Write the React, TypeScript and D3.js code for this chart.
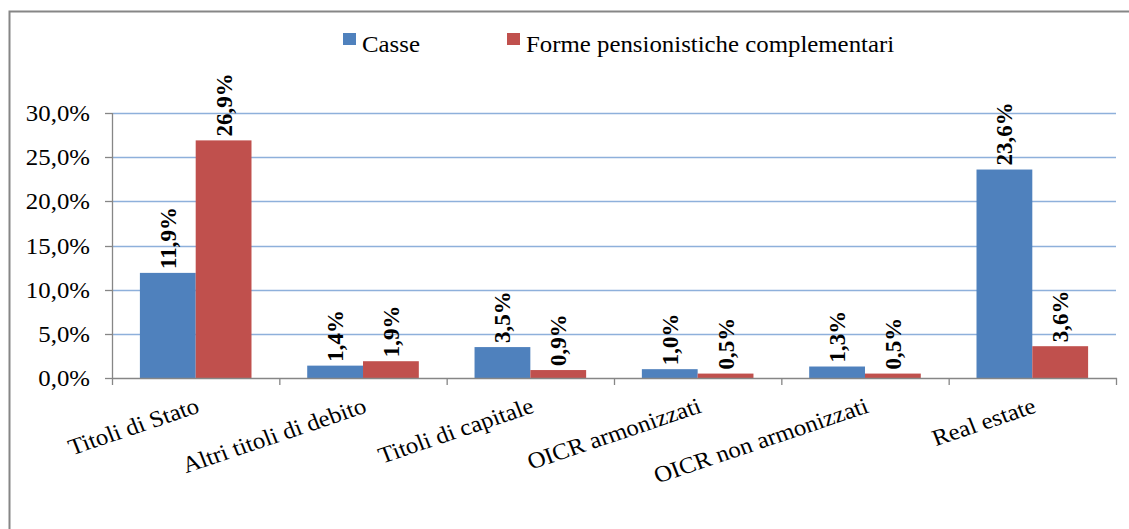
import React from 'react';
import * as d3 from 'd3';

const categories = [
  'Titoli di Stato',
  'Altri titoli di debito',
  'Titoli di capitale',
  'OICR armonizzati',
  'OICR non armonizzati',
  'Real estate',
];
const seriesNames = ['Casse', 'Forme pensionistiche complementari'];
const casse = [11.9, 1.4, 3.5, 1.0, 1.3, 23.6];
const forme = [26.9, 1.9, 0.9, 0.5, 0.5, 3.6];
const yTicks = [0, 5, 10, 15, 20, 25, 30];
const colors = ['#4f81bd', '#c0504d'];

const W = 1129;
const H = 529;
const FONT = '"Liberation Serif", "Times New Roman", serif';
const SX = 1.08; // the reference text is a bit wider than plain Times

const App: React.FC = () => {
  const left = 112;
  const right = 1116;
  const top = 113;
  const bottom = 378;

  const x = d3.scaleBand<string>().domain(categories).range([left, right]).paddingInner(0.333).paddingOuter(0.1667);
  const bandAll = d3.scaleBand<string>().domain(categories).range([left, right]);
  const xs = d3.scaleBand<string>().domain(seriesNames).range([0, x.bandwidth()]);
  const y = d3.scaleLinear().domain([0, 30]).range([bottom, top]);
  const fmt = (v: number) => v.toFixed(1).replace('.', ',') + '%';
  const series = [casse, forme];

  return (
    <svg width={W} height={H} style={{ position: 'absolute', left: 0, top: 0, background: '#fff' }} fontFamily={FONT}>
      {/* chart border */}
      <path d={`M9.5,${H} V11.5 H${W}`} fill="none" stroke="#868686" strokeWidth={2} />

      {/* gridlines */}
      {yTicks.filter(t => t > 0).map(t => (
        <line key={t} x1={left} x2={right} y1={Math.round(y(t)) + 0.5} y2={Math.round(y(t)) + 0.5} stroke="#8eb0db" strokeWidth={1.3} />
      ))}

      {/* bars */}
      {series.map((vals, si) =>
        vals.map((v, i) => (
          <rect
            key={`${si}-${i}`}
            x={(x(categories[i]) ?? 0) + (xs(seriesNames[si]) ?? 0)}
            y={y(v)}
            width={xs.bandwidth()}
            height={y(0) - y(v)}
            fill={colors[si]}
          />
        ))
      )}

      {/* y axis */}
      <line x1={left + 0.5} x2={left + 0.5} y1={top} y2={bottom} stroke="#868686" strokeWidth={1.3} />
      {yTicks.map(t => (
        <g key={t}>
          <line x1={left - 7} x2={left} y1={Math.round(y(t)) + 0.5} y2={Math.round(y(t)) + 0.5} stroke="#868686" strokeWidth={1.3} />
          <text transform={`translate(${left - 22},${y(t)}) scale(${SX},1)`} dy="0.35em" textAnchor="end" fontSize={23} fill="#000">{fmt(t)}</text>
        </g>
      ))}

      {/* x axis */}
      <line x1={left} x2={right + 1} y1={bottom + 0.5} y2={bottom + 0.5} stroke="#868686" strokeWidth={1.3} />
      {categories.map(c => (
        <line key={c} x1={(bandAll(c) ?? 0) + 0.5} x2={(bandAll(c) ?? 0) + 0.5} y1={bottom} y2={bottom + 7} stroke="#868686" strokeWidth={1.3} />
      ))}
      <line x1={right + 0.5} x2={right + 0.5} y1={bottom} y2={bottom + 7} stroke="#868686" strokeWidth={1.3} />

      {/* category labels */}
      {categories.map(c => {
        const cx = (bandAll(c) ?? 0) + bandAll.bandwidth() / 2 + 5;
        const cy = bottom + 34;
        return (
          <text key={c} transform={`translate(${cx},${cy}) scale(${SX},1) rotate(-20)`} textAnchor="end" fontSize={23} fill="#000">
            {c}
          </text>
        );
      })}

      {/* data labels */}
      {series.map((vals, si) =>
        vals.map((v, i) => {
          const cx = (x(categories[i]) ?? 0) + (xs(seriesNames[si]) ?? 0) + xs.bandwidth() / 2;
          const cy = y(v) - 4;
          return (
            <text key={`l${si}-${i}`} transform={`translate(${cx + 8},${cy}) rotate(-90)`} fontSize={23} fontWeight="bold" fill="#000">
              {fmt(v)}
            </text>
          );
        })
      )}

      {/* legend */}
      {seriesNames.map((s, i) => {
        const lx = i === 0 ? 343 : 507;
        return (
          <g key={s}>
            <rect x={lx} y={33} width={13} height={12} fill={colors[i]} />
            <text transform={`translate(${lx + 19},52) scale(${SX},1)`} fontSize={23} fill="#000">{s}</text>
          </g>
        );
      })}
    </svg>
  );
};

export default App;
